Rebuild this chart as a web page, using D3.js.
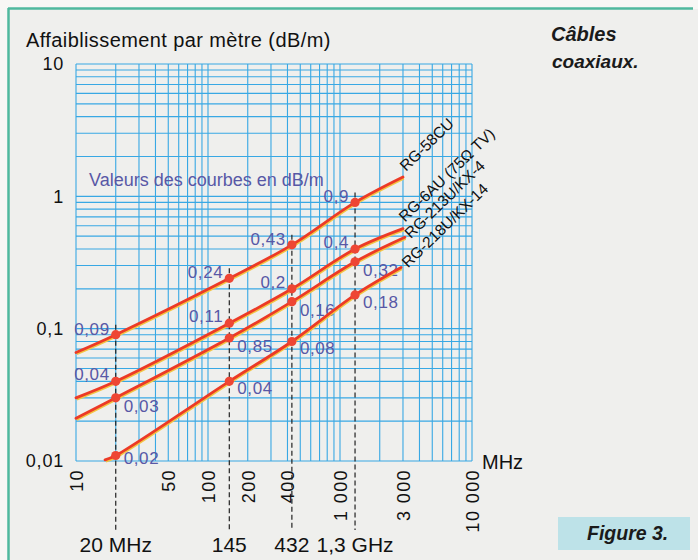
<!DOCTYPE html>
<html>
<head>
<meta charset="utf-8">
<script src="https://cdn.jsdelivr.net/npm/d3@7"></script>
<style>
  html, body { margin: 0; padding: 0; background: #f7f7f5; }
  svg { display: block; }
  text { font-family: "Liberation Sans", Arial, Helvetica, sans-serif; }
</style>
</head>
<body>
<svg id="chart" width="698" height="560"></svg>
<script>
// Frequency axis (MHz, log) and loss axis (dB/m, log)
const freqTicks = [10, 50, 100, 200, 400, 1000, 3000, 10000];
const freqTickLabels = ["10", "50", "100", "200", "400", "1 000", "3 000", "10 000"];
const lossTicks = [0.01, 0.1, 1, 10];
const lossTickLabels = ["0,01", "0,1", "1", "10"];

// Reference frequencies marked with dashed verticals
const markerFreqs = [20, 145, 432, 1300];
const markerNames = ["20 MHz", "145", "432", "1,3 GHz"];

// Cable attenuation curves (frequency in MHz, loss in dB/m)
const cableNames = ["RG-58CU", "RG-6AU (75Ω TV)", "RG-213U/KX-4", "RG-218U/KX-14"];
const rg58cuFreq = [10, 20, 145, 432, 1300, 3000];
const rg58cuLoss = [0.066, 0.09, 0.24, 0.43, 0.9, 1.4];
const rg6auFreq = [10, 20, 145, 432, 1300, 3000];
const rg6auLoss = [0.030, 0.04, 0.11, 0.2, 0.4, 0.57];
const rg213Freq = [10, 20, 145, 432, 1300, 3100];
const rg213Loss = [0.021, 0.03, 0.085, 0.16, 0.32, 0.49];
const rg218Freq = [16.6, 20, 145, 432, 1300, 2900];
const rg218Loss = [0.0102, 0.011, 0.04, 0.08, 0.18, 0.29];

// Printed values at the marked frequencies
const rg58cuText = ["0,09", "0,24", "0,43", "0,9"];
const rg6auText = ["0,04", "0,11", "0,2", "0,4"];
const rg213Text = ["0,03", "0,85", "0,16", "0,32"];
const rg218Text = ["0,02", "0,04", "0,08", "0,18"];

// Layout of each curve's value labels and name label
const series = [
  { name: cableNames[0], freq: rg58cuFreq, loss: rg58cuLoss, text: rg58cuText,
    side: "left", dy: 0, nameDx: 3, nameDy: -5 },
  { name: cableNames[1], freq: rg6auFreq, loss: rg6auLoss, text: rg6auText,
    side: "left", dy: -1, nameDx: 2, nameDy: -6 },
  { name: cableNames[2], freq: rg213Freq, loss: rg213Loss, text: rg213Text,
    side: "right", dy: 14, nameDx: 6, nameDy: 2 },
  { name: cableNames[3], freq: rg218Freq, loss: rg218Loss, text: rg218Text,
    side: "right", dy: 13, nameDx: 7, nameDy: 1 }
];

const svg = d3.select("#chart");
const W = 698, H = 560;

// Page background and frame
svg.append("rect").attr("x", 0).attr("y", 0).attr("width", W).attr("height", H).attr("fill", "#f7f7f5");
svg.append("rect").attr("x", 9).attr("y", 9).attr("width", W - 9).attr("height", H - 9).attr("fill", "#efefed");
svg.append("line").attr("x1", 8).attr("x2", 693).attr("y1", 8.5).attr("y2", 8.5)
  .attr("stroke", "#4fb99e").attr("stroke-width", 2.5);
svg.append("line").attr("x1", 8.5).attr("x2", 8.5).attr("y1", 8).attr("y2", H)
  .attr("stroke", "#4fb99e").attr("stroke-width", 2.5);

const x = d3.scaleLog().domain([10, 10000]).range([76, 472]);
const y = d3.scaleLog().domain([0.01, 10]).range([461, 64]);

// Grid: 1..9 in every decade
const gridColor = "#38a8e4";
const xGrid = [];
for (let d = 10; d < 10000; d *= 10) for (let k = 1; k <= 9; k++) xGrid.push(d * k);
xGrid.push(10000);
const yGrid = [];
for (let d = 0.01; d < 9.99; d *= 10) for (let k = 1; k <= 9; k++) yGrid.push(d * k);
yGrid.push(10);

const grid = svg.append("g");
grid.selectAll("line.v").data(xGrid).join("line")
  .attr("class", "v")
  .attr("x1", d => x(d)).attr("x2", d => x(d))
  .attr("y1", y(10)).attr("y2", y(0.01))
  .attr("stroke", gridColor).attr("stroke-width", 1.1);
grid.selectAll("line.h").data(yGrid).join("line")
  .attr("class", "h")
  .attr("x1", x(10)).attr("x2", x(10000))
  .attr("y1", d => y(d)).attr("y2", d => y(d))
  .attr("stroke", gridColor).attr("stroke-width", 1.1);

// Axes (labels only, drawn through d3 axis generators)
const xAxis = d3.axisBottom(x).tickValues(freqTicks)
  .tickFormat((d, i) => freqTickLabels[i]).tickSize(0);
const gx = svg.append("g").attr("transform", `translate(0,${y(0.01)})`).call(xAxis);
gx.select(".domain").remove();
gx.selectAll("text")
  .attr("transform", "rotate(-90)")
  .attr("text-anchor", "end")
  .attr("x", -8).attr("y", 0).attr("dy", "0.36em")
  .attr("font-size", 18).attr("letter-spacing", 1.4)
  .attr("font-family", "Liberation Sans, Arial, sans-serif")
  .attr("fill", "#111");

const yAxis = d3.axisLeft(y).tickValues(lossTicks)
  .tickFormat((d, i) => lossTickLabels[i]).tickSize(0).tickPadding(12);
const gy = svg.append("g").attr("transform", `translate(${x(10)},0)`).call(yAxis);
gy.select(".domain").remove();
gy.selectAll("text")
  .attr("font-size", 18).attr("letter-spacing", 0.8)
  .attr("font-family", "Liberation Sans, Arial, sans-serif")
  .attr("fill", "#111");

// Titles
svg.append("text").attr("x", 26).attr("y", 47)
  .attr("font-size", 20).attr("letter-spacing", 0.4).attr("fill", "#111")
  .text("Affaiblissement par mètre (dB/m)");
svg.append("text").attr("x", 482).attr("y", 469)
  .attr("font-size", 20).attr("fill", "#111").text("MHz");
svg.append("text").attr("x", 89).attr("y", 186)
  .attr("font-size", 18).attr("fill", "#5858a6")
  .text("Valeurs des courbes en dB/m");

svg.append("text").attr("x", 551).attr("y", 41)
  .attr("font-size", 20).attr("font-weight", "bold").attr("font-style", "italic")
  .attr("fill", "#1a1a1a").text("Câbles");
svg.append("text").attr("x", 552).attr("y", 68)
  .attr("font-size", 19).attr("font-weight", "bold").attr("font-style", "italic")
  .attr("fill", "#1a1a1a").text("coaxiaux.");

svg.append("rect").attr("x", 558).attr("y", 517).attr("width", 132).attr("height", 33)
  .attr("fill", "#bde2e8");
svg.append("text").attr("x", 587).attr("y", 540)
  .attr("font-size", 19.5).attr("font-weight", "bold").attr("font-style", "italic")
  .attr("fill", "#1a1a1a").text("Figure 3.");

// Dashed reference verticals, from just above the top curve down under the axis
const topLoss = markerFreqs.map(f => rg58cuLoss[rg58cuFreq.indexOf(f)]);
svg.append("g").selectAll("line").data(markerFreqs).join("line")
  .attr("x1", d => x(d)).attr("x2", d => x(d))
  .attr("y1", (d, i) => y(topLoss[i]) - 10).attr("y2", 530)
  .attr("stroke", "#222").attr("stroke-width", 1.2)
  .attr("stroke-dasharray", "5,3");
svg.append("g").selectAll("text").data(markerFreqs).join("text")
  .attr("x", d => x(d)).attr("y", 552)
  .attr("text-anchor", "middle").attr("font-size", 21).attr("fill", "#111")
  .text((d, i) => markerNames[i]);

// Curves
const line = d3.line()
  .x(d => x(d[0])).y(d => y(d[1]))
  .curve(d3.curveCatmullRom.alpha(0.5));

series.forEach(s => {
  const pts = s.freq.map((f, i) => [f, s.loss[i]]);
  svg.append("path").datum(pts).attr("d", line)
    .attr("transform", "translate(0.8,1.3)")
    .attr("fill", "none").attr("stroke", "#f3c443").attr("stroke-width", 2.6);
  svg.append("path").datum(pts).attr("d", line)
    .attr("fill", "none").attr("stroke", "#ec3a26").attr("stroke-width", 2.8)
    .attr("stroke-linecap", "round");

  const marks = pts.filter(p => markerFreqs.includes(p[0]));
  svg.append("g").selectAll("circle").data(marks).join("circle")
    .attr("cx", d => x(d[0])).attr("cy", d => y(d[1])).attr("r", 4.6)
    .attr("fill", "#ee4634");
  svg.append("g").selectAll("text").data(marks).join("text")
    .attr("x", d => x(d[0]) + (s.side === "left" ? -6 : 8))
    .attr("y", d => Math.min(y(d[1]) + s.dy, 464))
    .attr("text-anchor", s.side === "left" ? "end" : "start")
    .attr("font-size", 17).attr("letter-spacing", 0.6)
    .attr("fill", "#5858a6")
    .text((d, i) => s.text[i]);

  const last = pts[pts.length - 1];
  svg.append("text")
    .attr("transform", `translate(${x(last[0]) + s.nameDx},${y(last[1]) + s.nameDy}) rotate(-44)`)
    .attr("font-size", 15.5).attr("fill", "#111")
    .text(s.name);
});
</script>
</body>
</html>
